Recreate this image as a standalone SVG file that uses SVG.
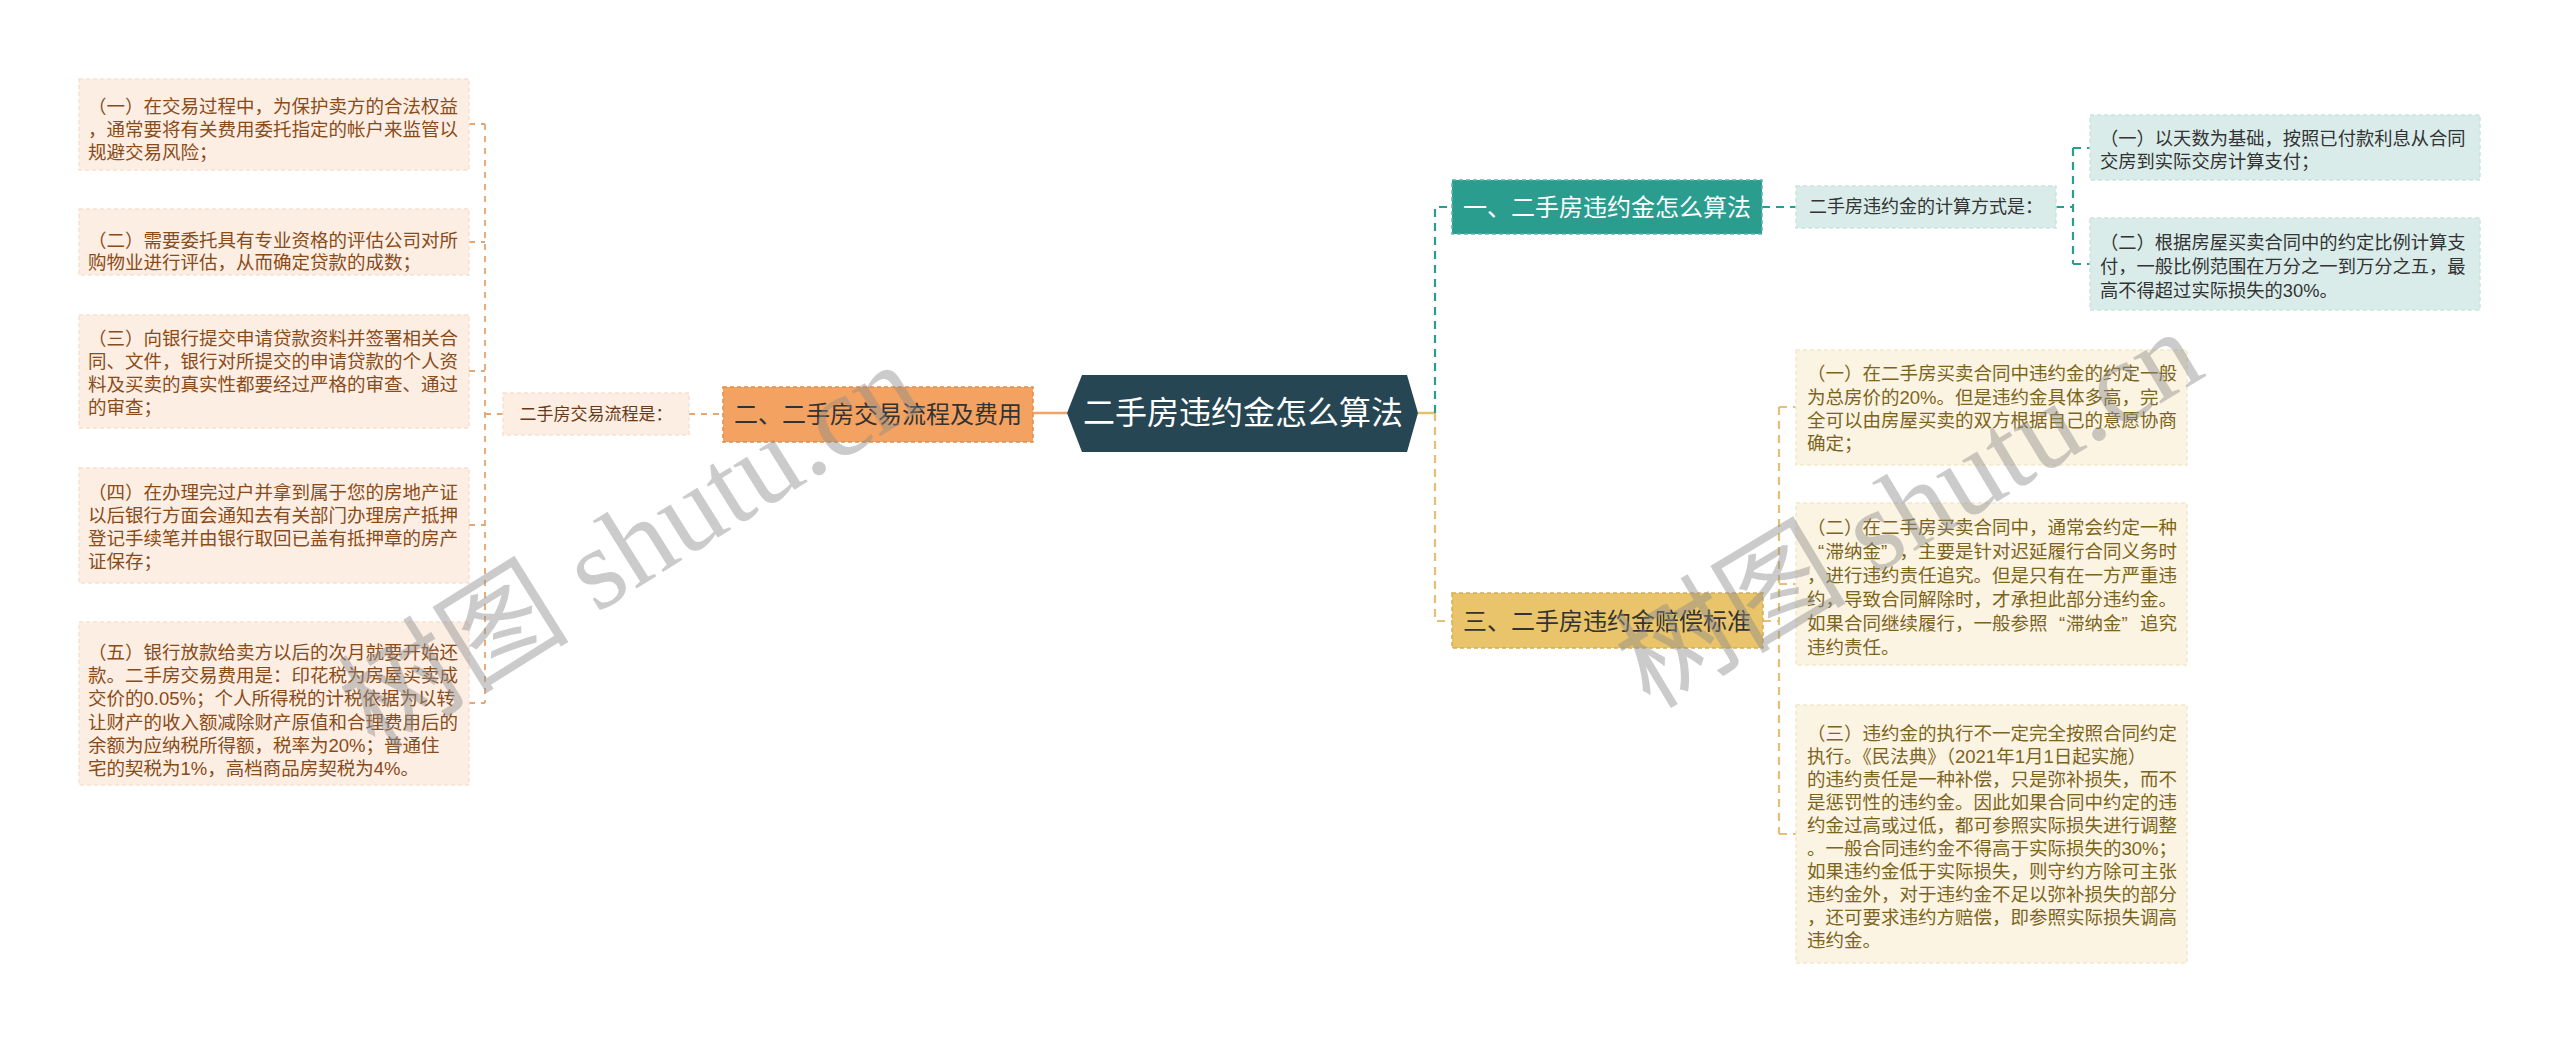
<svg xmlns="http://www.w3.org/2000/svg" width="2560" height="1043" viewBox="0 0 2560 1043">
<style>
text{font-family:"Liberation Sans","Noto Sans CJK SC",sans-serif;}
.leafL rect,.l2 rect{fill:#fdeee3;stroke:#f8e0cf;stroke-width:1.5;stroke-dasharray:4 3;}
.leafR1 rect,.c1 rect{fill:#d9ecea;stroke:#cae4e0;stroke-width:1.5;stroke-dasharray:4 3;}
.leafR3 rect{fill:#fbf4e2;stroke:#f3e8cc;stroke-width:1.5;stroke-dasharray:4 3;}
.leafL text{font-size:18.5px;fill:#8a4b18;dominant-baseline:central;}
.leafR3 text{font-size:18.5px;fill:#7d641c;dominant-baseline:central;}
.leafR1 text{font-size:18.3px;fill:#333;dominant-baseline:central;}
.mid{dominant-baseline:central;text-anchor:middle;}
.cL{fill:none;stroke:#e3a676;stroke-width:1.8;stroke-dasharray:6 6;}
.cT{fill:none;stroke:#2a9d8f;stroke-width:2.2;stroke-dasharray:8 6;}
.cY{fill:none;stroke:#e4c073;stroke-width:2.2;stroke-dasharray:8 6;}
.wm{font-family:"Liberation Serif","Noto Sans CJK SC",serif;font-size:116px;fill:#8c8c8c;fill-opacity:0.45;}
</style>
<rect width="2560" height="1043" fill="#ffffff"/>

<g id="connectors">
  <line x1="1033" y1="413" x2="1067" y2="413" stroke="#f0a468" stroke-width="2.5"/>
  <path class="cL" d="M689,414 H723"/>
  <path class="cL" d="M485,414 H503"/>
  <path class="cL" d="M485,124 V703"/>
  <path class="cL" d="M469,124 H485 M469,242 H485 M469,371 H485 M469,525 H485 M469,703 H485"/>
  <line x1="1418" y1="413" x2="1435" y2="413" stroke="#e4c073" stroke-width="2.5"/>
  <path class="cT" d="M1435,413 V207 H1452"/>
  <path class="cY" d="M1435,413 V621 H1452"/>
  <path class="cT" d="M1762,207 H1796"/>
  <path class="cT" d="M2056,207 H2073 M2073,148 V264 M2073,148 H2090 M2073,264 H2090"/>
  <path class="cY" d="M1763,621 H1779 M1779,407 V834 M1779,407 H1796 M1779,584 H1796 M1779,834 H1796"/>
</g>

<g id="root">
  <path d="M1067,413 L1082,375 L1407,375 L1418,413 L1407,452 L1082,452 Z" fill="#264653"/>
  <text x="1243" y="413" class="mid" font-size="32" fill="#ffffff">二手房违约金怎么算法</text>
</g>

<g id="n-left-main">
  <rect x="723" y="387" width="310" height="55" fill="#f4a261" stroke="#e38a45" stroke-width="1.5" stroke-dasharray="4 3"/>
  <text x="878" y="414" class="mid" font-size="24" fill="#333">二、二手房交易流程及费用</text>
</g>
<g id="n-left-sub" class="l2">
  <rect x="503" y="393" width="186" height="42"/>
  <text x="596" y="414" class="mid" font-size="17" fill="#6b3a14">二手房交易流程是：</text>
</g>

<g id="n-left-1" class="leafL">
  <rect x="79" y="79" width="390" height="91"/>
  <text><tspan x="88" y="106">（一）在交易过程中，为保护卖方的合法权益</tspan><tspan x="88" y="129">，通常要将有关费用委托指定的帐户来监管以</tspan><tspan x="88" y="152">规避交易风险；</tspan></text>
</g>
<g id="n-left-2" class="leafL">
  <rect x="79" y="209" width="390" height="66"/>
  <text><tspan x="88" y="240">（二）需要委托具有专业资格的评估公司对所</tspan><tspan x="88" y="262">购物业进行评估，从而确定贷款的成数；</tspan></text>
</g>
<g id="n-left-3" class="leafL">
  <rect x="79" y="315" width="390" height="113"/>
  <text><tspan x="88" y="338">（三）向银行提交申请贷款资料并签署相关合</tspan><tspan x="88" y="361">同、文件，银行对所提交的申请贷款的个人资</tspan><tspan x="88" y="384">料及买卖的真实性都要经过严格的审查、通过</tspan><tspan x="88" y="407">的审查；</tspan></text>
</g>
<g id="n-left-4" class="leafL">
  <rect x="79" y="468" width="390" height="115"/>
  <text><tspan x="88" y="492">（四）在办理完过户并拿到属于您的房地产证</tspan><tspan x="88" y="515">以后银行方面会通知去有关部门办理房产抵押</tspan><tspan x="88" y="538">登记手续笔并由银行取回已盖有抵押章的房产</tspan><tspan x="88" y="561">证保存；</tspan></text>
</g>
<g id="n-left-5" class="leafL">
  <rect x="79" y="622" width="390" height="163"/>
  <text><tspan x="88" y="652">（五）银行放款给卖方以后的次月就要开始还</tspan><tspan x="88" y="675">款。二手房交易费用是：印花税为房屋买卖成</tspan><tspan x="88" y="698">交价的0.05%；个人所得税的计税依据为以转</tspan><tspan x="88" y="722">让财产的收入额减除财产原值和合理费用后的</tspan><tspan x="88" y="745">余额为应纳税所得额，税率为20%；普通住</tspan><tspan x="88" y="768">宅的契税为1%，高档商品房契税为4%。</tspan></text>
</g>

<g id="n-right-1">
  <rect x="1452" y="180" width="310" height="54" fill="#2a9d8f" stroke="#5cb8ac" stroke-width="1.5" stroke-dasharray="4 3"/>
  <text x="1607" y="207" class="mid" font-size="24" fill="#ffffff">一、二手房违约金怎么算法</text>
</g>
<g id="n-right-1-sub" class="c1">
  <rect x="1796" y="186" width="260" height="42"/>
  <text x="1926" y="207" class="mid" font-size="18" fill="#333">二手房违约金的计算方式是：</text>
</g>
<g id="n-right-1-a" class="leafR1">
  <rect x="2090" y="115" width="390" height="65"/>
  <text><tspan x="2100" y="138">（一）以天数为基础，按照已付款利息从合同</tspan><tspan x="2100" y="161">交房到实际交房计算支付；</tspan></text>
</g>
<g id="n-right-1-b" class="leafR1">
  <rect x="2090" y="218" width="390" height="92"/>
  <text><tspan x="2100" y="242">（二）根据房屋买卖合同中的约定比例计算支</tspan><tspan x="2100" y="266">付，一般比例范围在万分之一到万分之五，最</tspan><tspan x="2100" y="290">高不得超过实际损失的30%。</tspan></text>
</g>

<g id="n-right-3">
  <rect x="1452" y="593" width="311" height="55" fill="#e9c46a" stroke="#d8ad4c" stroke-width="1.5" stroke-dasharray="4 3"/>
  <text x="1607" y="621" class="mid" font-size="24" fill="#333">三、二手房违约金赔偿标准</text>
</g>
<g id="n-right-3-a" class="leafR3">
  <rect x="1796" y="350" width="391" height="115"/>
  <text><tspan x="1807" y="373">（一）在二手房买卖合同中违约金的约定一般</tspan><tspan x="1807" y="397">为总房价的20%。但是违约金具体多高，完</tspan><tspan x="1807" y="420">全可以由房屋买卖的双方根据自己的意愿协商</tspan><tspan x="1807" y="443">确定；</tspan></text>
</g>
<g id="n-right-3-b" class="leafR3">
  <rect x="1796" y="503" width="391" height="162"/>
  <text><tspan x="1807" y="527">（二）在二手房买卖合同中，通常会约定一种</tspan><tspan x="1818" y="551">“</tspan><tspan x="1825.5" y="551">滞纳金</tspan><tspan x="1881" y="551">”</tspan><tspan x="1899.5" y="551">，主要是针对迟延履行合同义务时</tspan><tspan x="1807" y="575">，进行违约责任追究。但是只有在一方严重违</tspan><tspan x="1807" y="599">约，导致合同解除时，才承担此部分违约金。</tspan><tspan x="1807" y="623">如果合同继续履行，一般参照</tspan><tspan x="2059" y="623">“</tspan><tspan x="2066" y="623">滞纳金</tspan><tspan x="2121.5" y="623">”</tspan><tspan x="2140" y="623">追究</tspan><tspan x="1807" y="647">违约责任。</tspan></text>
</g>
<g id="n-right-3-c" class="leafR3">
  <rect x="1796" y="705" width="391" height="258"/>
  <text><tspan x="1807" y="733">（三）违约金的执行不一定完全按照合同约定</tspan><tspan x="1807" y="756">执行。《民法典》（2021年1月1日起实施）</tspan><tspan x="1807" y="779">的违约责任是一种补偿，只是弥补损失，而不</tspan><tspan x="1807" y="802">是惩罚性的违约金。因此如果合同中约定的违</tspan><tspan x="1807" y="825">约金过高或过低，都可参照实际损失进行调整</tspan><tspan x="1807" y="848">。一般合同违约金不得高于实际损失的30%；</tspan><tspan x="1807" y="871">如果违约金低于实际损失，则守约方除可主张</tspan><tspan x="1807" y="894">违约金外，对于违约金不足以弥补损失的部分</tspan><tspan x="1807" y="917">，还可要求违约方赔偿，即参照实际损失调高</tspan><tspan x="1807" y="940">违约金。</tspan></text>
</g>

<g id="watermarks">
  <text class="wm" transform="translate(375,752) rotate(-32)">树图 shutu.cn</text>
  <text class="wm" transform="translate(1650,710) rotate(-31)">树图 shutu.cn</text>
</g>
</svg>
